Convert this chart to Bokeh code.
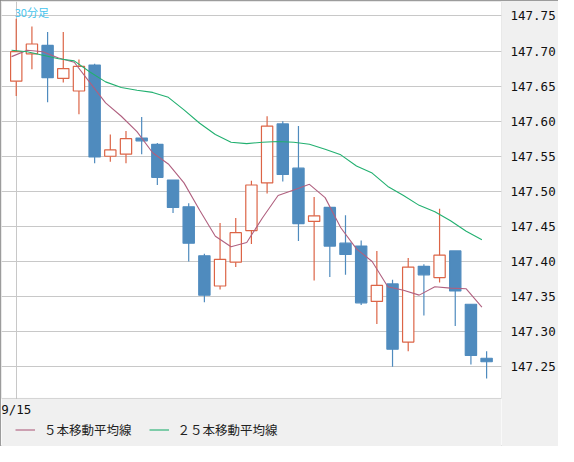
from bokeh.plotting import figure
from bokeh.models import (ColumnDataSource, Range1d, FixedTicker, NumeralTickFormatter,
                          Legend, LegendItem, Label, Grid, BoxAnnotation)
from bokeh.embed import file_html
from bokeh.resources import INLINE

# ---- data (30-minute candles, USD/JPY) ----
date_label = "9/15"
opens  = [147.657, 147.696, 147.708, 147.661, 147.643, 147.680, 147.550, 147.553, 147.576, 147.567,
          147.516, 147.478, 147.408, 147.365, 147.399, 147.444, 147.512, 147.596, 147.533, 147.457,
          147.477, 147.426, 147.422, 147.343, 147.368, 147.285, 147.393, 147.377, 147.415, 147.339,
          147.262]
highs  = [147.746, 147.735, 147.727, 147.727, 147.688, 147.682, 147.581, 147.586, 147.606, 147.569,
          147.516, 147.483, 147.411, 147.455, 147.462, 147.515, 147.607, 147.600, 147.593, 147.492,
          147.477, 147.466, 147.430, 147.415, 147.374, 147.405, 147.396, 147.475, 147.415, 147.339,
          147.272]
lows   = [147.636, 147.674, 147.627, 147.655, 147.610, 147.540, 147.542, 147.540, 147.553, 147.509,
          147.469, 147.400, 147.342, 147.360, 147.392, 147.425, 147.497, 147.514, 147.429, 147.373,
          147.378, 147.381, 147.338, 147.311, 147.250, 147.272, 147.323, 147.370, 147.308, 147.253,
          147.233]
closes = [147.699, 147.710, 147.662, 147.675, 147.678, 147.549, 147.559, 147.575, 147.572, 147.520,
          147.477, 147.426, 147.352, 147.403, 147.441, 147.509, 147.593, 147.524, 147.454, 147.465,
          147.422, 147.410, 147.341, 147.366, 147.275, 147.392, 147.381, 147.409, 147.358, 147.266,
          147.257]
ma5    = [147.692, 147.701, 147.699, 147.690, 147.684, 147.655, 147.626, 147.607, 147.585, 147.555,
          147.539, 147.512, 147.473, 147.436, 147.421, 147.427, 147.462, 147.494, 147.502, 147.510,
          147.491, 147.448, 147.418, 147.400, 147.364, 147.359, 147.352, 147.364, 147.362, 147.361,
          147.335]
ma25   = [147.701, 147.699, 147.694, 147.689, 147.686, 147.670, 147.656, 147.648, 147.644, 147.641,
          147.634, 147.616, 147.597, 147.581, 147.570, 147.568, 147.570, 147.571, 147.570, 147.567,
          147.560, 147.552, 147.536, 147.526, 147.507, 147.494, 147.480, 147.471, 147.458, 147.443,
          147.431]
y_ticks = [147.25, 147.30, 147.35, 147.40, 147.45, 147.50, 147.55, 147.60, 147.65, 147.70, 147.75]
x_ticks = [0]
legend_labels = ["５本移動平均線", "２５本移動平均線"]
title_text = "30分足"

# ---- styles ----
RED = "#dc6446"
BLUE = "#4f8bbe"
MAUVE = "#b0607f"
GREEN = "#22b070"
GRID = "#c8c8c8"
PANEL = "#f0f0f0"
BORDER = "#808080"

Y_TOP = 147.7706      # top edge of the chart area
Y_FLOOR = 147.2047    # bottom edge of the chart area (footer starts below)
Y_BOTTOM = 147.1362   # bottom of the footer strip

idx = list(range(len(opens)))
up = [c >= o for o, c in zip(opens, closes)]
src = ColumnDataSource(dict(
    x=idx,
    o=opens, h=highs, l=lows, c=closes,
    top=[max(o, c) for o, c in zip(opens, closes)],
    bottom=[min(o, c) for o, c in zip(opens, closes)],
    line=[RED if u else BLUE for u in up],
    fill=["white" if u else BLUE for u in up],
))
ma_x = [i - 0.3 for i in idx]

p = figure(width=558, height=446, output_backend="svg", toolbar_location=None,
           x_range=Range1d(-0.94, 30.95), y_range=Range1d(Y_BOTTOM, Y_TOP),
           x_axis_location=None, y_axis_location="right",
           min_border_left=1, min_border_right=50, min_border_top=1, min_border_bottom=0)
p.styles = {"outline": "1px solid " + BORDER, "outline-offset": "-1px"}
p.background_fill_color = "white"
p.border_fill_color = PANEL
p.outline_line_color = None

# grids (custom)
p.center = [r for r in p.center if not isinstance(r, Grid)]
p.add_layout(Grid(dimension=0, ticker=FixedTicker(ticks=x_ticks), grid_line_color=GRID, grid_line_width=1))
p.add_layout(Grid(dimension=1, ticker=FixedTicker(ticks=y_ticks), grid_line_color=GRID, grid_line_width=1))

# right price axis
p.yaxis.ticker = FixedTicker(ticks=y_ticks)
p.yaxis.formatter = NumeralTickFormatter(format="0.00")
p.yaxis.axis_line_color = None
p.yaxis.major_tick_line_color = None
p.yaxis.minor_tick_line_color = None
p.yaxis.major_label_text_font = "DejaVu Sans Mono"
p.yaxis.major_label_text_font_size = "12.5px"
p.yaxis.major_label_text_color = "#111111"
p.yaxis.major_label_standoff = 3

# candles
p.segment(x0="x", y0="l", x1="x", y1="h", line_color="line", line_width=1.2, source=src)
p.vbar(x="x", width=0.72, top="top", bottom="bottom", fill_color="fill",
       line_color="line", line_width=1.2, source=src)

# moving averages
l5 = p.line(ma_x, ma5, line_color=MAUVE, line_width=1.1)
l25 = p.line(ma_x, ma25, line_color=GREEN, line_width=1.1)

# footer strip and chart border
p.add_layout(BoxAnnotation(top=Y_FLOOR, fill_color=PANEL, fill_alpha=1, line_color=None))
p.add_layout(BoxAnnotation(bottom=Y_FLOOR, fill_alpha=0, line_color=BORDER, line_width=1))

# date label under the grid line
p.add_layout(Label(x=x_ticks[0], y=147.199, text=date_label, text_font="DejaVu Sans Mono",
                   text_font_size="12.5px", text_color="#111111", text_align="center",
                   text_baseline="top"))

legend = Legend(items=[LegendItem(label=legend_labels[0], renderers=[l5]),
                       LegendItem(label=legend_labels[1], renderers=[l25])],
                orientation="horizontal", location=(14, 7),
                background_fill_alpha=0, border_line_color=None,
                glyph_width=20, glyph_height=15, label_height=15,
                label_standoff=9, spacing=17, padding=0, margin=0,
                label_text_font="Noto Sans CJK JP", label_text_font_size="12.5px",
                label_text_color="#222222")
p.add_layout(legend)

title = Label(x=-0.10, y=147.7665, text=title_text, text_font="Noto Sans CJK JP",
              text_font_size="11px", text_color="#44c4ee", text_baseline="top",
              text_align="left")
p.add_layout(title)

open("out.html", "w").write(file_html(p, INLINE))
